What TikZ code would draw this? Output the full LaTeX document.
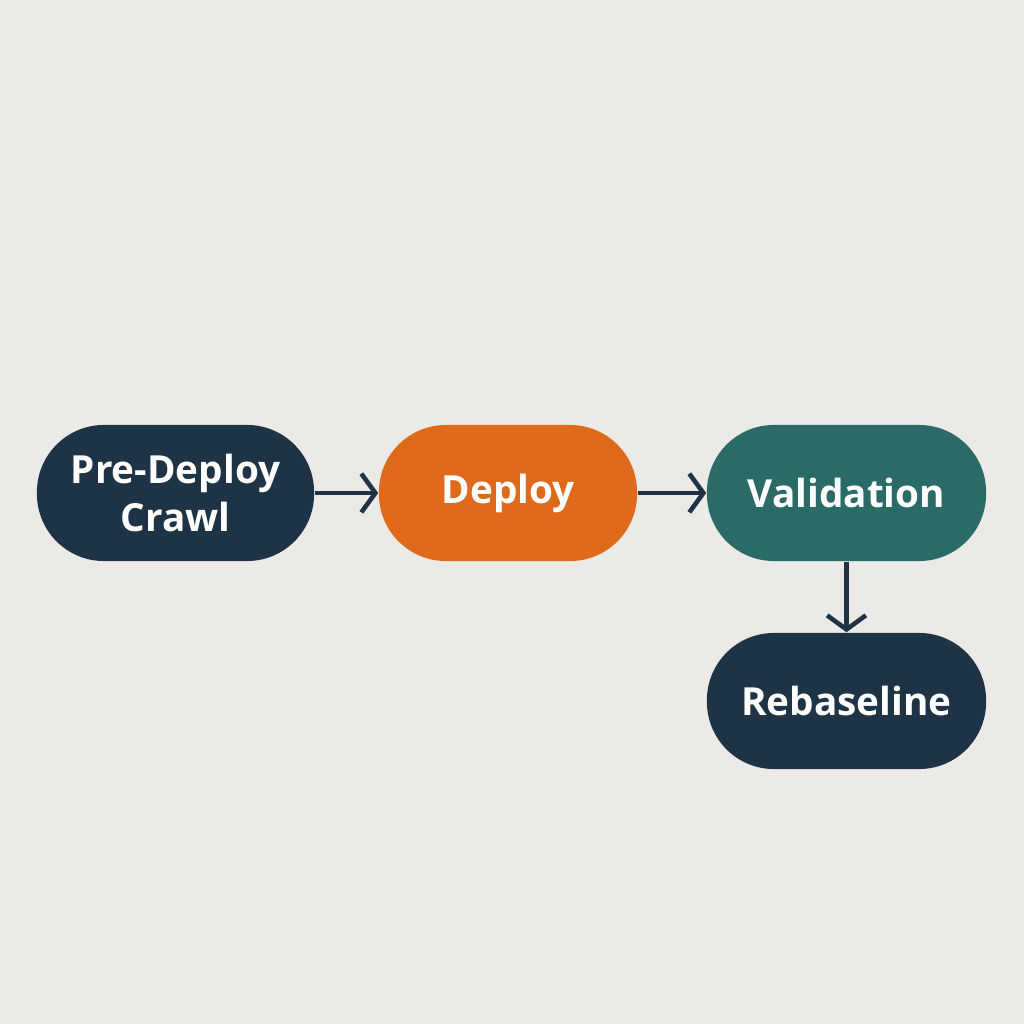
\documentclass[tikz,border=0pt]{standalone}
\usepackage{fontspec}
\setmainfont{Open Sans}
\usetikzlibrary{arrows.meta}
\definecolor{bg}{HTML}{ECEAE7}
\definecolor{navy}{HTML}{1F3347}
\definecolor{orng}{HTML}{E06A1B}
\definecolor{teal}{HTML}{2A6B68}
\begin{document}
\begin{tikzpicture}[x=0.01cm,y=-0.01cm,
  box/.style={rounded corners=0.67cm, draw=none, minimum height=1.36cm, inner sep=0pt,
    text=white, font=\fontsize{11}{13.5}\selectfont\bfseries, align=center},
  arr/.style={draw=navy, line width=1.3pt, -{Straight Barb[length=4pt,width=11pt,line width=1.3pt]}}]
\fill[bg] (0,0) rectangle (1024,1024);
\useasboundingbox (0,0) rectangle (1024,1024);
\node[box, fill=navy, minimum width=2.77cm] (a) at (175.5,493) {Pre-Deploy\\Crawl};
\node[box, fill=orng, minimum width=2.58cm] (b) at (508,493) {Deploy};
\node[box, fill=teal, minimum width=2.79cm] (c) at (846.5,493) {Validation};
\node[box, fill=navy, minimum width=2.79cm] (d) at (846.5,701) {Rebaseline};
\draw[arr] (a) -- (b);
\draw[arr] (b) -- (c);
\draw[arr] (c) -- (d);
\end{tikzpicture}
\end{document}
